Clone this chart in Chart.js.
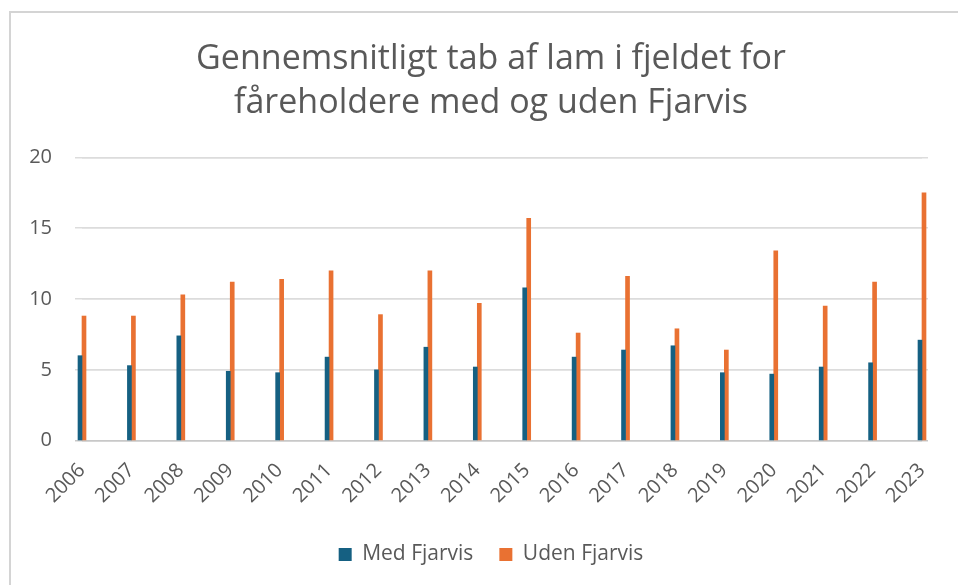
<!DOCTYPE html>
<html>
<head>
<meta charset="utf-8">
<script src="https://cdn.jsdelivr.net/npm/chart.js@4.4.1/dist/chart.umd.min.js"></script>
<style>
  html, body { margin: 0; padding: 0; background: #fff; }
  #frame {
    position: absolute; left: 9px; top: 11px; width: 960px; height: 600px;
    border-left: 2px solid #d4d4d4; border-top: 2px solid #d4d4d4;
  }
  #wrap { position: absolute; left: 0; top: 0; width: 958px; height: 585px; }
</style>
</head>
<body>
<div id="frame"></div>
<div id="wrap"><canvas id="chart" width="958" height="585"></canvas></div>
<script>
const years = ['2006', '2007', '2008', '2009', '2010', '2011', '2012', '2013', '2014',
  '2015', '2016', '2017', '2018', '2019', '2020', '2021', '2022', '2023'];
const medFjarvis = [6.0, 5.3, 7.4, 4.9, 4.8, 5.9, 5.0, 6.6, 5.2, 10.8, 5.9, 6.4, 6.7, 4.8, 4.7, 5.2, 5.5, 7.1];
const udenFjarvis = [8.8, 8.8, 10.3, 11.2, 11.4, 12.0, 8.9, 12.0, 9.7, 15.7, 7.6, 11.6, 7.9, 6.4, 13.4, 9.5, 11.2, 17.5];
const yTicks = [0, 5, 10, 15, 20];

const txt = '#595959';
const fam = '"Open Sans", sans-serif';

const gridColor = c => c.tick && c.tick.value === 0 ? '#c8c8c8' : '#dcdcdc';

const ctx = document.getElementById('chart').getContext('2d');
new Chart(ctx, {
  type: 'bar',
  data: {
    labels: years,
    datasets: [
      { label: 'Med Fjarvis', data: medFjarvis, backgroundColor: '#156082', barThickness: 4, clip: false },
      { label: 'Uden Fjarvis', data: udenFjarvis, backgroundColor: '#E97132', barThickness: 4, clip: false }
    ]
  },
  options: {
    responsive: false,
    animation: false,
    layout: { padding: { left: 24, right: 0, top: 17, bottom: 10 } },
    plugins: {
      title: {
        display: true,
        text: ['Gennemsnitligt tab af lam i fjeldet for', 'fåreholdere med og uden Fjarvis'],
        color: txt,
        font: { family: fam, size: 34, weight: 'normal', lineHeight: 1.3 },
        padding: { top: 20, bottom: 32 }
      },
      legend: {
        position: 'bottom',
        labels: {
          color: txt,
          font: { family: fam, size: 21 },
          boxWidth: 13,
          boxHeight: 13,
          padding: 26
        }
      },
      tooltip: { enabled: false }
    },
    scales: {
      x: {
        offset: false,
        grid: { display: false },
        border: { display: false },
        afterFit: s => { s.paddingLeft = 0; s.paddingRight = 0; },
        ticks: {
          color: txt,
          font: { family: fam, size: 20 },
          minRotation: 45,
          maxRotation: 45,
          padding: 10
        }
      },
      y: {
        min: 0,
        max: 20,
        afterBuildTicks: s => { s.ticks = yTicks.map(v => ({ value: v })); },
        afterFit: s => { s.width = 58; },
        border: { display: false },
        grid: { color: gridColor, lineWidth: 1.5, drawTicks: true, tickLength: 7 },
        ticks: {
          color: txt,
          font: { family: fam, size: 20 },
          padding: 23
        }
      },
      y2: {
        position: 'right',
        min: 0,
        max: 20,
        afterBuildTicks: s => { s.ticks = yTicks.map(v => ({ value: v })); },
        afterFit: s => { s.width = 36; },
        border: { display: false },
        grid: { color: gridColor, lineWidth: 1.5, drawTicks: true, tickLength: 6 },
        ticks: { display: false, padding: 0 }
      }
    }
  }
});
</script>
</body>
</html>
